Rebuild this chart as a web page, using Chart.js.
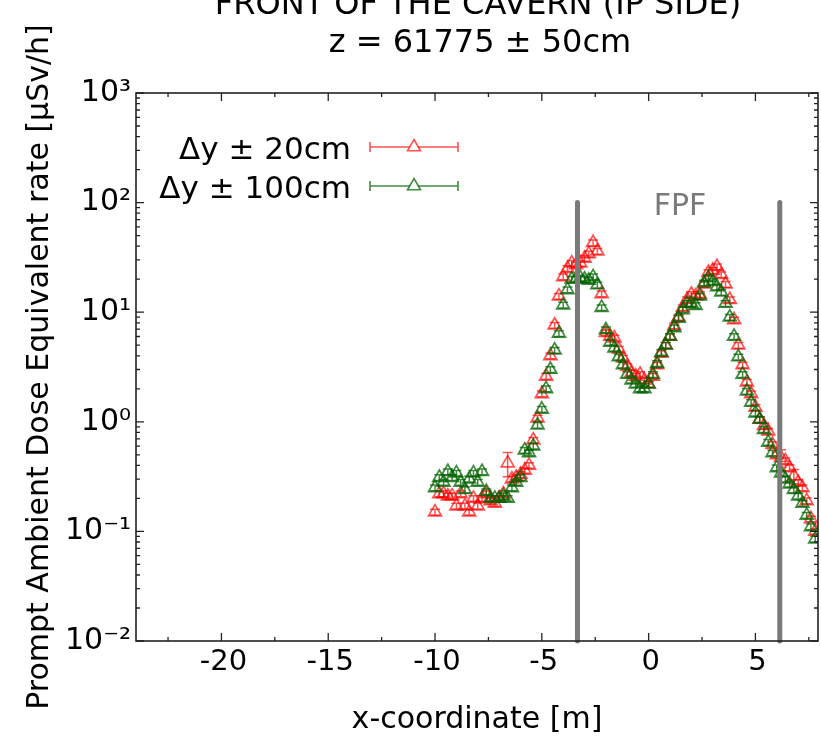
<!DOCTYPE html>
<html>
<head>
<meta charset="utf-8">
<script src="https://cdn.jsdelivr.net/npm/chart.js@4.4.1/dist/chart.umd.min.js"></script>
<style>
html,body{margin:0;padding:0;background:#fff;overflow:hidden}
#wrap{width:821px;height:737px;position:relative}
</style>
</head>
<body>
<div id="wrap"><canvas id="c" width="821" height="737"></canvas></div>
<script>
// ---------------- data ----------------
const xPositions = [
  -10.0, -9.8, -9.6, -9.4, -9.2, -9.0, -8.8, -8.6, -8.4, -8.2,
  -8.0, -7.8, -7.6, -7.4, -7.2, -7.0, -6.8, -6.6, -6.4, -6.2,
  -6.0, -5.8, -5.6, -5.4, -5.2, -5.0, -4.8, -4.6, -4.4, -4.2,
  -4.0, -3.8, -3.6, -3.4, -3.2, -3.0, -2.8, -2.6, -2.4, -2.2,
  -2.0, -1.8, -1.6, -1.4, -1.2, -1.0, -0.8, -0.6, -0.4, -0.2,
  0.0, 0.2, 0.4, 0.6, 0.8, 1.0, 1.2, 1.4, 1.6, 1.8,
  2.0, 2.2, 2.4, 2.6, 2.8, 3.0, 3.2, 3.4, 3.6, 3.8,
  4.0, 4.2, 4.4, 4.6, 4.8, 5.0, 5.2, 5.4, 5.6, 5.8,
  6.0, 6.2, 6.4, 6.6, 6.8, 7.0, 7.2, 7.4, 7.6, 7.8
];
// Δy ± 20cm
const dose20 = [
  0.15, 0.22, 0.22, 0.21, 0.21, 0.17, 0.22, 0.17, 0.15, 0.20,
  0.17, 0.20, 0.22, 0.19, 0.18, 0.20, 0.22, 0.42, 0.30, 0.31,
  0.33, 0.36, 0.40, 0.68, 1.08, 1.8, 2.6, 4.0, 7.6, 14,
  21, 25, 28, 27, 28, 31, 34, 43, 36, 14.7,
  6.5, 6.0, 5.8, 4.6, 3.8, 3.2, 2.8, 2.6, 2.7, 2.4,
  2.2, 2.6, 3.3, 4.2, 5.0, 6.0, 7.5, 9.0, 11, 13,
  14.5, 14, 14.5, 18, 23, 24, 26, 22, 18, 13,
  8.5, 5.0, 3.3, 2.3, 1.8, 1.35, 1.05, 0.92, 0.82, 0.62,
  0.50, 0.47, 0.44, 0.38, 0.32, 0.28, 0.25, 0.19, 0.13, 0.10
];
// Δy ± 100cm
const dose100 = [
  0.25, 0.31, 0.28, 0.35, 0.31, 0.34, 0.28, 0.24, 0.30, 0.34,
  0.28, 0.35, 0.23, 0.20, 0.20, 0.20, 0.21, 0.20, 0.25, 0.28,
  0.31, 0.55, 0.52, 0.60, 0.93, 1.3, 2.0, 3.0, 4.5, 6.4,
  11.6, 16, 20, 20, 20.5, 20, 19.5, 21, 17.7, 11,
  6.9, 5.3, 4.7, 3.9, 3.3, 2.7, 2.4, 2.2, 2.0, 2.0,
  2.2, 2.7, 3.4, 4.3, 5.0, 6.0, 7.2, 8.8, 10.5, 12,
  12, 11.5, 14, 18.5, 20.6, 19, 17, 15.2, 12, 9,
  6.0, 3.9, 2.7, 1.9, 1.5, 1.2, 1.05, 0.85, 0.65, 0.52,
  0.38, 0.34, 0.30, 0.27, 0.24, 0.21, 0.18, 0.14, 0.11, 0.085
];
// relative statistical errors (typical value, plus the few larger ones)
const typicalRelErr = 0.06;
const relErr20Large = {17: 0.25, 81: 0.18, 84: 0.15};
const relErr100Large = {};

const seriesLabels = ['Δy ± 20cm', 'Δy ± 100cm'];
const titleLines = ['FRONT OF THE CAVERN (IP SIDE)', 'z = 61775 ± 50cm'];
const xTitle = 'x-coordinate [m]';
const yTitle = 'Prompt Ambient Dose Equivalent rate [μSv/h]';
const xTickValues = [-20, -15, -10, -5, 0, 5];
const xMinorValues = [-22.5, -17.5, -12.5, -7.5, -2.5, 2.5, 7.5];
const yTickValues = [0.01, 0.1, 1, 10, 100, 1000];
const yTickLabels = ['10⁻²', '10⁻¹', '10⁰', '10¹', '10²', '10³'];
const fpfEdges = [-3.33, 6.14];
const fpfRange = [0.01, 100];
const fpfLabel = 'FPF';
const xRange = [-24, 7.93];
const yRange = [0.01, 1000];

// ---------------- styling ----------------
const RED = 'rgba(255,0,0,0.68)';
const GREEN = 'rgba(0,100,0,0.75)';
const GRAY = '#7a7a7a';
Chart.defaults.font.family = "'DejaVu Sans', sans-serif";
Chart.defaults.color = '#000';

const pts = arr => xPositions.map((x, i) => ({x: x, y: arr[i]}));

function triPath(ctx, x, y, r) {
  ctx.beginPath();
  for (let k = 0; k < 3; k++) {
    const a = k * 2 * Math.PI / 3;
    const px = x + Math.sin(a) * r, py = y - Math.cos(a) * r;
    if (k === 0) ctx.moveTo(px, py); else ctx.lineTo(px, py);
  }
  ctx.closePath();
}

const errorBars = {
  id: 'errorBars',
  afterDatasetDraw(chart, args) {
    const ds = chart.data.datasets[args.index];
    if (!ds.errMap) return;
    const {ctx, chartArea} = chart;
    const ys = chart.scales.y;
    ctx.save();
    ctx.beginPath();
    ctx.rect(chartArea.left, chartArea.top - 10, chartArea.right - chartArea.left, chartArea.bottom - chartArea.top + 10);
    ctx.clip();
    ctx.strokeStyle = ds.borderColor;
    ctx.lineWidth = 1.5;
    args.meta.data.forEach((el, i) => {
      const v = ds.data[i].y;
      const e = ds.errMap[i] !== undefined ? ds.errMap[i] : typicalRelErr;
      const y1 = ys.getPixelForValue(v * (1 + e));
      const y2 = ys.getPixelForValue(v * (1 - e));
      const x = el.x;
      ctx.beginPath();
      ctx.moveTo(x, y1); ctx.lineTo(x, y2);
      ctx.moveTo(x - 5, y1); ctx.lineTo(x + 5, y1);
      ctx.moveTo(x - 5, y2); ctx.lineTo(x + 5, y2);
      ctx.stroke();
    });
    ctx.restore();
  }
};

const frameAndDecor = {
  id: 'frameAndDecor',
  afterDraw(chart) {
    const {ctx, chartArea: {left, right, top, bottom}, scales: {x, y}} = chart;
    ctx.save();
    // frame
    ctx.strokeStyle = '#222';
    ctx.lineWidth = 1.6;
    ctx.strokeRect(left, top, right - left, bottom - top);
    ctx.lineWidth = 1.3;
    ctx.beginPath();
    const vt = (px, len) => { ctx.moveTo(px, bottom); ctx.lineTo(px, bottom - len); ctx.moveTo(px, top); ctx.lineTo(px, top + len); };
    const ht = (py, len) => { ctx.moveTo(left, py); ctx.lineTo(left + len, py); ctx.moveTo(right, py); ctx.lineTo(right - len, py); };
    xTickValues.forEach(v => vt(x.getPixelForValue(v), 8));
    xMinorValues.forEach(v => vt(x.getPixelForValue(v), 4));
    yTickValues.forEach(v => ht(y.getPixelForValue(v), 8));
    for (let d = 0; d < yTickValues.length - 1; d++) {
      for (let m = 2; m <= 9; m++) ht(y.getPixelForValue(yTickValues[d] * m), 4);
    }
    ctx.stroke();

    // title
    ctx.fillStyle = '#000';
    ctx.textAlign = 'center';
    ctx.textBaseline = 'alphabetic';
    ctx.font = "32px 'DejaVu Sans'";
    ctx.fillText(titleLines[0], 478, 14);
    ctx.fillText(titleLines[1], 480, 52);

    // FPF label
    ctx.fillStyle = GRAY;
    ctx.font = "30px 'DejaVu Sans'";
    ctx.fillText(fpfLabel, 680, 215);

    // legend
    const rows = [[seriesLabels[0], RED, 147], [seriesLabels[1], GREEN, 186]];
    rows.forEach(([lab, col, ly]) => {
      ctx.fillStyle = '#000';
      ctx.textAlign = 'right';
      ctx.font = "31px 'DejaVu Sans'";
      ctx.fillText(lab, 351, ly + 12);
      ctx.strokeStyle = col;
      ctx.lineWidth = 1.6;
      ctx.beginPath();
      ctx.moveTo(370, ly); ctx.lineTo(458, ly);
      ctx.moveTo(370, ly - 5); ctx.lineTo(370, ly + 5);
      ctx.moveTo(458, ly - 5); ctx.lineTo(458, ly + 5);
      ctx.stroke();
      triPath(ctx, 414, ly, 7.5);
      ctx.fillStyle = '#fff';
      ctx.fill();
      ctx.lineWidth = 1.6;
      ctx.stroke();
    });
    ctx.restore();
  }
};

const datasets = [
  {label: seriesLabels[0], data: pts(dose20), errMap: relErr20Large, borderColor: RED,
   backgroundColor: 'rgba(0,0,0,0)', pointStyle: 'triangle', pointRadius: 7.5, borderWidth: 1.7,
   showLine: false, order: 2},
  {label: seriesLabels[1], data: pts(dose100), errMap: relErr100Large, borderColor: GREEN,
   backgroundColor: 'rgba(0,0,0,0)', pointStyle: 'triangle', pointRadius: 7.5, borderWidth: 1.7,
   showLine: false, order: 1}
];
fpfEdges.forEach(xe => datasets.push({
  type: 'line', label: fpfLabel, data: [{x: xe, y: fpfRange[0]}, {x: xe, y: fpfRange[1]}],
  borderColor: GRAY, borderWidth: 5, borderCapStyle: 'round', pointRadius: 0,
  showLine: true, fill: false, clip: false, order: 0
}));

new Chart(document.getElementById('c'), {
  type: 'scatter',
  data: {datasets: datasets},
  options: {
    responsive: false,
    animation: false,
    events: [],
    layout: {autoPadding: false, padding: {top: 93, right: 3, left: 0, bottom: 0}},
    plugins: {legend: {display: false}, tooltip: {enabled: false}, title: {display: false}},
    scales: {
      x: {
        type: 'linear', min: xRange[0], max: xRange[1],
        afterBuildTicks: s => { s.ticks = xTickValues.map(v => ({value: v})); },
        ticks: {font: {size: 29}, color: '#000', padding: 4, labelOffset: 2, maxRotation: 0, autoSkip: false,
                callback: v => String(v)},
        grid: {display: false, drawTicks: false},
        border: {display: false},
        title: {display: true, text: xTitle, color: '#000', font: {size: 30, lineHeight: 1.1}, padding: {top: 0, bottom: 0}},
        afterFit: s => { s.height = 96; }
      },
      y: {
        type: 'logarithmic', min: yRange[0], max: yRange[1],
        afterBuildTicks: s => { s.ticks = yTickValues.map(v => ({value: v})); },
        ticks: {font: {size: 30}, color: '#000', padding: 5, autoSkip: false,
                callback: (v, i) => yTickLabels[yTickValues.indexOf(v)] !== undefined ? yTickLabels[yTickValues.indexOf(v)] : yTickLabels[i]},
        grid: {display: false, drawTicks: false},
        border: {display: false},
        title: {display: true, text: yTitle, color: '#000', font: {size: 30, lineHeight: 1.2}, padding: {top: 22, bottom: 0}},
        afterFit: s => { s.width = 136; }
      }
    }
  },
  plugins: [errorBars, frameAndDecor]
});
</script>
</body>
</html>
